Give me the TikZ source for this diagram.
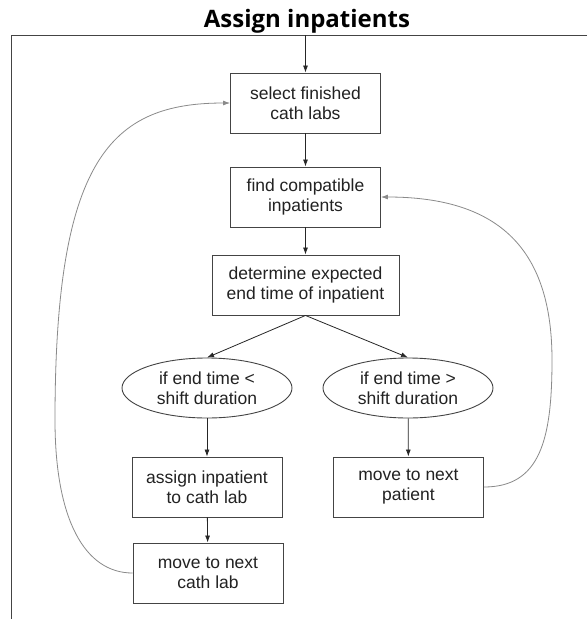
\documentclass[tikz,border=0pt]{standalone}
\usepackage{fontspec}
\setmainfont{Liberation Sans}
\newfontfamily\titlefont{Open Sans}
\usetikzlibrary{shapes.geometric,arrows.meta}
\definecolor{boxline}{HTML}{444444}
\definecolor{txt}{HTML}{222222}
\definecolor{loopc}{HTML}{8A8A8A}
\tikzset{
  procbox/.style={draw=boxline, line width=0.9pt, minimum width=150pt, minimum height=60pt,
    align=center, text=txt, font=\fontsize{17.5}{20}\selectfont, inner sep=0pt},
  decell/.style={draw=boxline, line width=0.9pt, ellipse, minimum width=170pt, minimum height=60pt,
    align=center, text=txt, font=\fontsize{17.5}{20}\selectfont, inner sep=0pt},
  flow/.style={draw=black!85, line width=0.8pt, -{Latex[length=7pt,width=5pt]}},
  loopflow/.style={draw=loopc, line width=0.8pt, -{Latex[length=7pt,width=5pt]}},
}
\begin{document}
\begin{tikzpicture}[x=1pt,y=-1pt]
\useasboundingbox (0,0) rectangle (587,619);
\fill[white] (0,0) rectangle (587,619);
\node (title) at (307,21) {\titlefont\bfseries\fontsize{24}{28}\selectfont Assign inpatients};
\draw[boxline, line width=0.9pt] (587,35) -- (11,35) -- (11,619);
\coordinate (top) at (305.5,35);
\node[procbox] (sel) at (305.5,103) {select finished\\cath labs};
\node[procbox] (find) at (305.5,197) {find compatible\\inpatients};
\node[procbox, minimum width=187pt] (det) at (305.5,285) {determine expected\\end time of inpatient};
\node[decell] (lt) at (207,388) {if end time <\\shift duration};
\node[decell] (gt) at (408,388) {if end time >\\shift duration};
\node[procbox] (assign) at (207,487) {assign inpatient\\to cath lab};
\node[procbox] (nextp) at (408.5,487) {move to next\\patient};
\node[procbox] (nextl) at (208,573) {move to next\\cath lab};
\coordinate (lmid) at (55,420);
\coordinate (rmid) at (552,360);
\draw[flow] (top) -- (sel);
\draw[flow] (sel) -- (find);
\draw[flow] (find) -- (det);
\draw[flow] (det.south) -- (lt.north);
\draw[flow] (det.south) -- (gt.north);
\draw[flow] (lt) -- (assign);
\draw[flow] (gt) -- (nextp);
\draw[flow] (assign) -- (nextl);
\draw[loopflow] (nextl.west) .. controls (85,573) and (55,520) .. (lmid)
  .. controls (55,160) and (110,103) .. (sel.west);
\draw[loopflow] (nextp.east) .. controls (540,487) and (552,440) .. (rmid)
  .. controls (552,250) and (500,197) .. (find.east);
\end{tikzpicture}
\end{document}
